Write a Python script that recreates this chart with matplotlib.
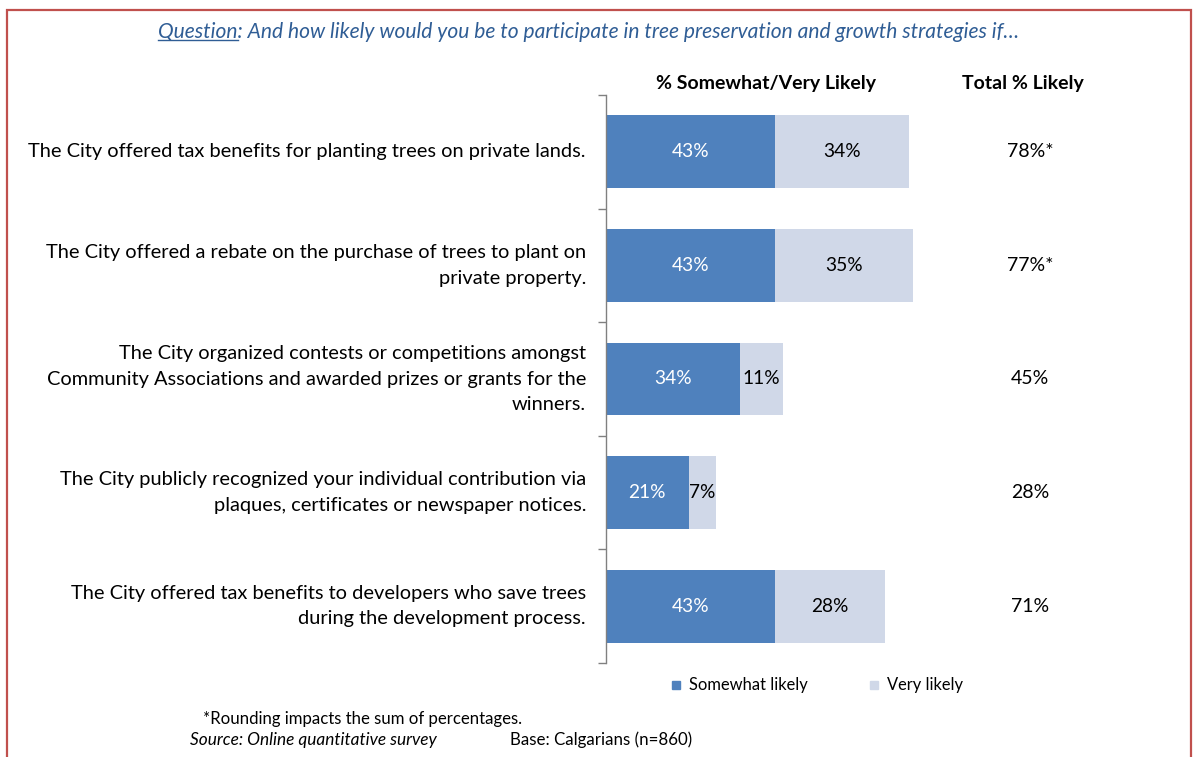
import matplotlib
matplotlib.use("Agg")
import matplotlib.pyplot as plt
from matplotlib.patches import Rectangle
from matplotlib.lines import Line2D

plt.rcParams['font.family'] = ['Lato', 'DejaVu Sans']

categories = [
    "The City offered tax benefits for planting trees on private lands.",
    "The City offered a rebate on the purchase of trees to plant on\nprivate property.",
    "The City organized contests or competitions amongst\nCommunity Associations and awarded prizes or grants for the\nwinners.",
    "The City publicly recognized your individual contribution via\nplaques, certificates or newspaper notices.",
    "The City offered tax benefits to developers who save trees\nduring the development process.",
]
somewhat_likely = [43, 43, 34, 21, 43]
very_likely = [34, 35, 11, 7, 28]
total_labels = ["78%*", "77%*", "45%", "28%", "71%"]

series_names = ["Somewhat likely", "Very likely"]
blue = "#4F81BD"
light = "#D0D8E8"

W, H = 1193, 757
fig = plt.figure(figsize=(W / 100, H / 100), dpi=100)

def fx(px):
    return px / W

def fy(py):
    return 1 - py / H

# page border
fig.add_artist(Rectangle((fx(7), fy(H + 20)), fx(1191 - 7), fy(10) - fy(H + 20),
                         transform=fig.transFigure, fill=False,
                         edgecolor="#C0504D", linewidth=1.6))

ax = fig.add_axes([fx(606), fy(663), fx(393), fy(95) - fy(663)])
n = len(categories)
y = list(range(n))
ax.barh(y, somewhat_likely, height=0.64, color=blue, label=series_names[0])
ax.barh(y, very_likely, left=somewhat_likely, height=0.64, color=light, label=series_names[1])

for i in range(n):
    s, v = somewhat_likely[i], very_likely[i]
    ax.text(s / 2, i, f"{s}%", ha="center", va="center", color="white", fontsize=13.8)
    ax.text(s + v / 2, i, f"{v}%", ha="center", va="center", color="black", fontsize=13.8)

ax.set_xlim(0, 100)
ax.set_ylim(n - 0.5, -0.5)
for side in ["top", "right", "bottom"]:
    ax.spines[side].set_visible(False)
ax.spines["left"].set_color("#808080")
ax.spines["left"].set_linewidth(1.0)
ax.set_xticks([])
ax.set_yticks([i - 0.5 for i in range(n + 1)])
ax.set_yticklabels([])
ax.tick_params(axis="y", length=6, color="#808080", width=1.0)

for i, lab in enumerate(categories):
    ax.annotate(lab, xy=(0, i), xycoords=("axes fraction", "data"),
                xytext=(-20, 0), textcoords="offset pixels",
                ha="right", va="center", fontsize=14.4, linespacing=1.6,
                color="black")
    ax.annotate(total_labels[i], xy=(0, i), xycoords=("figure fraction", "data"),
                xytext=(1030, 0), textcoords="offset pixels",
                ha="center", va="center", fontsize=14, color="black")

# column headers
fig.text(fx(766), fy(83), "% Somewhat/Very Likely", ha="center", va="center",
         fontsize=14, fontweight="bold")
fig.text(fx(1023), fy(83), "Total % Likely", ha="center", va="center",
         fontsize=14, fontweight="bold")

# question header with underlined lead word
title_color = "#2F5D95"
title_size = 15.1
title = fig.text(fx(589), fy(32), "Question: And how likely would you be to participate in tree preservation and growth strategies if\u2026",
                 ha="center", va="center", fontsize=title_size, style="italic", color=title_color)
fig.canvas.draw()
r = fig.canvas.get_renderer()
bb = title.get_window_extent(r)
probe = fig.text(0, 0, "Question", fontsize=title_size, style="italic")
pw = probe.get_window_extent(r).width
probe.remove()
uy = bb.y0 + 2
fig.add_artist(Line2D([bb.x0 / W, (bb.x0 + pw) / W], [uy / H, uy / H],
                      transform=fig.transFigure, color=title_color, linewidth=1.0))

# legend
leg_items = [(672, blue, series_names[0]), (870, light, series_names[1])]
for x0, c, name in leg_items:
    fig.add_artist(Rectangle((fx(x0), fy(689)), fx(8), fy(681) - fy(689),
                             transform=fig.transFigure, color=c))
    fig.text(fx(x0 + 17), fy(685), name, ha="left", va="center", fontsize=11.9)

# footnotes
fig.text(fx(203), fy(719), "*Rounding impacts the sum of percentages.", ha="left",
         va="center", fontsize=12.1)
fig.text(fx(190), fy(740), "Source: Online quantitative survey", ha="left",
         va="center", fontsize=12.4, style="italic")
fig.text(fx(510), fy(740), "Base: Calgarians (n=860)", ha="left", va="center",
         fontsize=12.2)

fig.savefig("out.png", dpi=100)
